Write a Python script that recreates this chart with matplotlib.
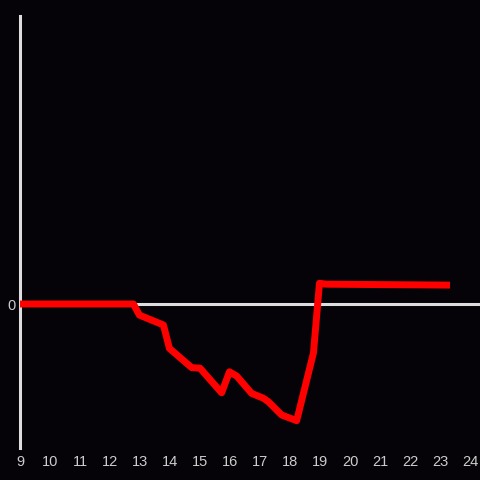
import matplotlib.pyplot as plt

# hours (x) and values (y)
hours = [9.0, 12.78, 12.98, 13.78, 13.98, 14.72, 15.0, 15.72, 15.98, 16.22,
         16.72, 17.11, 17.28, 17.72, 18.22, 18.78, 18.98, 19.22, 23.33]
values = [0.0, 0.0, -0.37, -0.7, -1.48, -2.12, -2.14, -2.96, -2.26, -2.4,
          -2.98, -3.14, -3.26, -3.7, -3.89, -1.63, 0.69, 0.66, 0.63]
xticks = list(range(9, 25))

bg = '#050307'
axis_col = '#dddddd'
text_col = '#cccccc'

fig = plt.figure(figsize=(4.8, 4.8), dpi=100, facecolor=bg)
ax = fig.add_axes([20 / 480, 32 / 480, 460 / 480, 432 / 480], facecolor=bg)

ax.axhline(0, color=axis_col, linewidth=2.2, zorder=1)
ax.plot(hours, values, color='#ff0000', linewidth=5,
        solid_joinstyle='round', solid_capstyle='butt', zorder=3)

ax.set_xlim(9, 24.33)
ax.set_ylim(-4.8, 9.6)

for side in ['top', 'right', 'bottom']:
    ax.spines[side].set_visible(False)
ax.spines['left'].set_color(axis_col)
ax.spines['left'].set_linewidth(2.2)

ax.set_xticks(xticks)
ax.set_xticklabels([str(h) for h in xticks])
ax.set_yticks([0])
ax.set_yticklabels(['0'])
ax.tick_params(axis='both', length=0, colors=text_col, labelsize=10.5)
ax.tick_params(axis='x', pad=5)
ax.tick_params(axis='y', pad=3)
for lbl in ax.get_xticklabels() + ax.get_yticklabels():
    lbl.set_fontfamily('Liberation Sans')

fig.savefig('out.png', dpi=100, facecolor=bg)
